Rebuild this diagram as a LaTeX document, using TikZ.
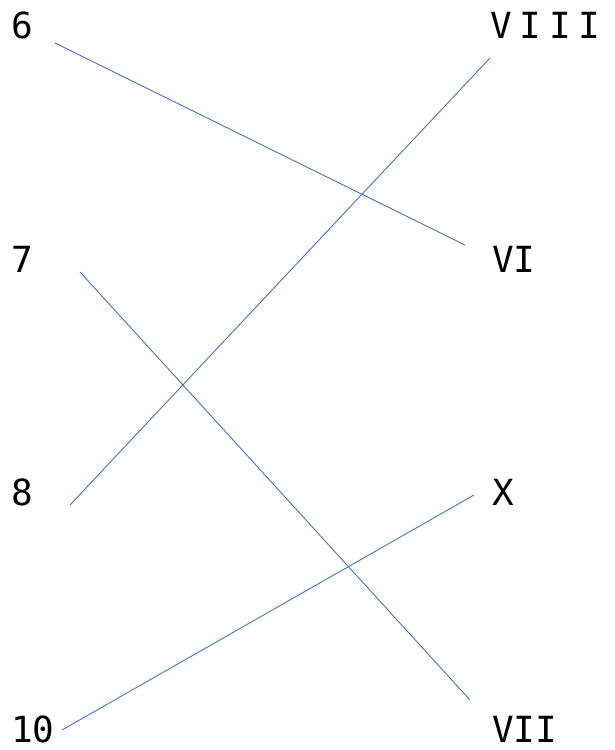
\documentclass[tikz,border=0pt]{standalone}
\usepackage{fontspec}
\setmonofont{DejaVu Sans Mono}
\usetikzlibrary{positioning}
\definecolor{linkblue}{RGB}{68,114,196}
\tikzset{
  numlabel/.style = {anchor=base west, inner sep=0pt, font=\ttfamily\fontsize{36}{36}\selectfont},
  link/.style     = {draw=linkblue, line width=0.9pt},
}
\begin{document}
\begin{tikzpicture}[x=1pt, y=-1pt]
  \useasboundingbox (0,0) rectangle (614,750);
  % left column
  \node[numlabel] (n6)  at (11,38)  {6};
  \node[numlabel] (n7)  at (11,272) {7};
  \node[numlabel] (n8)  at (11,505) {8};
  \node[numlabel] (n10) at (11,742) {10};
  % right column
  \node[numlabel] (nVIII) at (490,38)  {{\spaceskip=0.22em V I I I}};
  \node[numlabel] (nVI)   at (492,272) {VI};
  \node[numlabel] (nX)    at (492,505) {X};
  \node[numlabel] (nVII)  at (492,742) {VII};
  % line ends
  \coordinate (e6)    at (55,43);
  \coordinate (eVI)   at (465,245);
  \coordinate (eVIII) at (490,58);
  \coordinate (e8)    at (70,505);
  \coordinate (e7)    at (80,272);
  \coordinate (eVII)  at (470,700);
  \coordinate (e10)   at (62,730);
  \coordinate (eX)    at (474,495);
  \draw[link] (e6) -- (eVI);
  \draw[link] (eVIII) -- (e8);
  \draw[link] (e7) -- (eVII);
  \draw[link] (e10) -- (eX);
\end{tikzpicture}
\end{document}
